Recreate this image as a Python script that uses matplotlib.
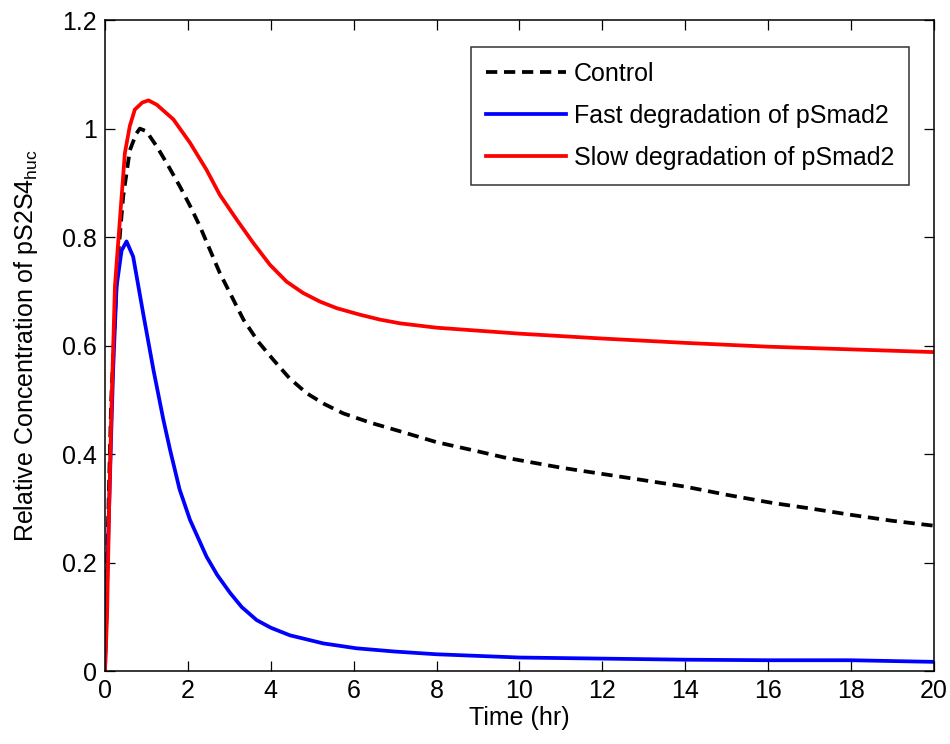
import numpy as np
import matplotlib.pyplot as plt

plt.rcParams['font.family'] = ['Liberation Sans', 'DejaVu Sans']

# control
t_ctrl = [0, 0.05, 0.15, 0.3, 0.44, 0.6, 0.75, 0.84, 1.0, 1.25, 1.5, 1.81, 2.05,
          2.29, 2.77, 3.34, 3.7, 4.06, 4.45, 4.87, 5.3, 5.75, 6.4, 7.12, 8.0, 9.0,
          9.62, 11.0, 12.9, 14.0, 15.0, 16.1, 17.0, 18.0, 19.0, 20.0]
y_ctrl = [0, 0.2, 0.5, 0.75, 0.875, 0.96, 0.99, 1.0, 0.995, 0.967, 0.935, 0.893,
          0.858, 0.82, 0.734, 0.648, 0.607, 0.574, 0.54, 0.512, 0.492, 0.475, 0.458,
          0.442, 0.422, 0.405, 0.394, 0.375, 0.353, 0.34, 0.325, 0.31, 0.3, 0.288,
          0.277, 0.268]

# fast degradation
t_fast = [0, 0.08, 0.16, 0.2, 0.28, 0.4, 0.52, 0.68, 0.92, 1.17, 1.41, 1.57, 1.8,
          2.05, 2.45, 2.71, 3.02, 3.3, 3.66, 4.0, 4.46, 5.27, 6.07, 7.0, 8.0, 10.0,
          12.0, 14.0, 16.0, 18.0, 20.0]
y_fast = [0, 0.25, 0.463, 0.561, 0.709, 0.775, 0.792, 0.764, 0.66, 0.555, 0.463,
          0.408, 0.335, 0.279, 0.211, 0.177, 0.144, 0.118, 0.094, 0.08, 0.066, 0.051,
          0.042, 0.036, 0.031, 0.025, 0.023, 0.021, 0.02, 0.02, 0.017]

# slow degradation
t_slow = [0, 0.05, 0.1, 0.16, 0.24, 0.36, 0.48, 0.6, 0.72, 0.9, 1.05, 1.25, 1.65,
          2.05, 2.45, 2.77, 3.18, 3.58, 3.98, 4.38, 4.78, 5.19, 5.59, 6.15, 6.63,
          7.12, 8.0, 10.0, 12.0, 14.0, 16.0, 18.0, 20.0]
y_slow = [0, 0.1, 0.3, 0.494, 0.709, 0.832, 0.955, 1.005, 1.035, 1.048, 1.052, 1.044,
          1.017, 0.974, 0.924, 0.878, 0.832, 0.789, 0.749, 0.718, 0.697, 0.681,
          0.669, 0.657, 0.648, 0.641, 0.633, 0.622, 0.613, 0.605, 0.598, 0.593, 0.588]

labels = ['Control', 'Fast degradation of pSmad2', 'Slow degradation of pSmad2']

fig = plt.figure(figsize=(9.5, 7.44), dpi=100)
ax = fig.add_axes([0.1105, 0.098, 0.8725, 0.875])

lw = 2.7
ax.plot(t_ctrl, y_ctrl, color='black', lw=lw, ls=(0, (3, 1.8)), label=labels[0])
ax.plot(t_fast, y_fast, color='blue', lw=lw, label=labels[1])
ax.plot(t_slow, y_slow, color='red', lw=lw, label=labels[2])

ax.set_xlim(0, 20)
ax.set_ylim(0, 1.2)
ax.set_xticks(np.arange(0, 21, 2))
ax.set_yticks(np.arange(0, 1.21, 0.2))
ax.set_yticklabels(['0', '0.2', '0.4', '0.6', '0.8', '1', '1.2'])
ax.tick_params(direction='in', top=True, right=True, labelsize=18, length=7, width=0.9, pad=6)
for s in ax.spines.values():
    s.set_linewidth(1.1)

ax.set_xlabel('Time (hr)', fontsize=18, labelpad=2)
ax.set_ylabel('Relative Concentration of pS2S4$_{\\mathregular{huc}}$', fontsize=18, labelpad=16)

leg = ax.legend(loc='upper right', bbox_to_anchor=(0.97, 0.9585), borderaxespad=0,
                fontsize=18, frameon=True, fancybox=False, edgecolor='black',
                handlelength=3.2, handletextpad=0.32, labelspacing=0.72, borderpad=0.6)
leg.get_frame().set_linewidth(1.1)

fig.savefig('out.png', dpi=100)
